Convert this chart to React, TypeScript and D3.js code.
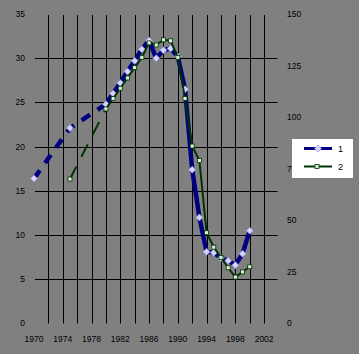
import * as d3 from "d3"

// series 1 (left axis) – sparse early years, yearly from 1980
const years1 = [1970, 1975, 1980, 1981, 1982, 1983, 1984, 1985, 1986, 1987, 1988, 1989, 1990, 1991, 1992, 1993, 1994, 1995, 1996, 1997, 1998, 1999, 2000]
const series1 = [16.4, 22.1, 24.8, 26.0, 27.2, 28.5, 29.7, 31.0, 32.0, 30.0, 30.9, 31.1, 30.2, 26.5, 17.4, 12.0, 8.1, 8.0, 7.4, 7.1, 6.6, 7.9, 10.5]

// series 2 (right axis)
const years2 = [1975, 1980, 1981, 1982, 1983, 1984, 1985, 1986, 1987, 1988, 1989, 1990, 1991, 1992, 1993, 1994, 1995, 1996, 1997, 1998, 1999, 2000]
const series2 = [70, 104, 109, 114, 119, 124, 129, 136, 135, 137.5, 137, 129, 109, 86, 79, 44, 37, 32, 27, 22.5, 25, 27.5]

const leftTicks = [0, 5, 10, 15, 20, 25, 30, 35]
const rightTicks = [0, 25, 50, 75, 100, 125, 150]
const xLabels = [1970, 1974, 1978, 1982, 1986, 1990, 1994, 1998, 2002]
const xGrid = d3.range(1972, 2003, 2)
const legendNames = ["1", "2"]

const W = 359
const H = 354
const BLUE = "#000080"
const GREEN = "#003300"
const FONT = "Liberation Sans, Arial, sans-serif"

export default function App() {
  const x = d3.scaleLinear().domain([1970, 2004]).range([34, 278.5])
  const yL = d3.scaleLinear().domain([0, 35]).range([323.5, 14])
  const yR = d3.scaleLinear().domain([0, 150]).range([323.5, 14])

  const pts1 = years1.map((yr, i) => [x(yr), yL(series1[i])] as [number, number])
  const pts2 = years2.map((yr, i) => [x(yr), yR(series2[i])] as [number, number])
  const line = d3.line<[number, number]>()

  // the gappy early part is drawn dashed, the yearly part solid
  const dash1 = pts1.filter((_, i) => years1[i] <= 1980)
  const solid1 = pts1.filter((_, i) => years1[i] >= 1980)
  const dash2 = pts2.filter((_, i) => years2[i] <= 1980)
  const solid2 = pts2.filter((_, i) => years2[i] >= 1980)

  const diamond = (cx: number, cy: number, r: number) =>
    `M${cx},${cy - r}L${cx + r},${cy}L${cx},${cy + r}L${cx - r},${cy}Z`

  return (
    <svg width={W} height={H} style={{ position: "absolute", left: 0, top: 0 }} fontFamily={FONT}>
      <rect width={W} height={H} fill="#808080" />

      {/* horizontal grid */}
      {leftTicks.filter((t) => t > 0 && t < 35).map((t) => (
        <line key={"h" + t} x1={35} x2={277.5} y1={Math.round(yL(t)) + 0.5} y2={Math.round(yL(t)) + 0.5} stroke="#000" strokeWidth={1} />
      ))}
      {/* vertical grid */}
      {xGrid.map((yr) => (
        <line key={"v" + yr} x1={Math.round(x(yr)) + 0.5} x2={Math.round(x(yr)) + 0.5} y1={15} y2={323.5} stroke="#000" strokeWidth={1} />
      ))}

      {/* left axis labels */}
      {leftTicks.map((t) => (
        <text key={"l" + t} x={25} y={yL(t)} dy="0.35em" textAnchor="end" fontSize={8.5} fill="#000">{t}</text>
      ))}
      {/* right axis labels */}
      {rightTicks.map((t) => (
        <text key={"r" + t} x={287} y={yR(t)} dy="0.35em" textAnchor="start" fontSize={8.5} fill="#000">{t}</text>
      ))}
      {/* x labels */}
      {xLabels.map((yr) => (
        <text key={"x" + yr} x={x(yr)} y={339} dy="0.35em" textAnchor="middle" fontSize={8.5} fill="#000">{yr}</text>
      ))}

      {/* series 1 */}
      <path d={line(dash1) || ""} fill="none" stroke={BLUE} strokeWidth={4.5} strokeDasharray="10 9" />
      <path d={line(solid1) || ""} fill="none" stroke={BLUE} strokeWidth={4.5} strokeLinejoin="round" />
      {pts1.map(([cx, cy], i) => (
        <path key={"m1" + i} d={diamond(cx, cy, 3.5)} fill="#d4d4ff" stroke="#9090d0" strokeWidth={0.6} />
      ))}

      {/* series 2 */}
      <path d={line(dash2) || ""} fill="none" stroke={GREEN} strokeWidth={2} strokeDasharray="14 11" />
      <path d={line(solid2) || ""} fill="none" stroke={GREEN} strokeWidth={2} strokeLinejoin="round" />
      {pts2.map(([cx, cy], i) => (
        <rect key={"m2" + i} x={cx - 2} y={cy - 2} width={4} height={4} fill="#d8f0d8" stroke={GREEN} strokeWidth={0.8} />
      ))}

      {/* legend */}
      <rect x={292} y={139} width={61} height={39} fill="#fff" />
      <line x1={304} x2={332} y1={148.5} y2={148.5} stroke={BLUE} strokeWidth={3} />
      <path d={diamond(318, 148.5, 3.5)} fill="#d4d4ff" stroke="#9090d0" strokeWidth={0.6} />
      <text x={338} y={148.5} dy="0.35em" fontSize={9} fill="#000">{legendNames[0]}</text>
      <line x1={304} x2={332} y1={166.5} y2={166.5} stroke={GREEN} strokeWidth={2} />
      <rect x={315} y={164.5} width={4} height={4} fill="#d8f0d8" stroke={GREEN} strokeWidth={0.8} />
      <text x={338} y={166.5} dy="0.35em" fontSize={9} fill="#000">{legendNames[1]}</text>
    </svg>
  )
}
